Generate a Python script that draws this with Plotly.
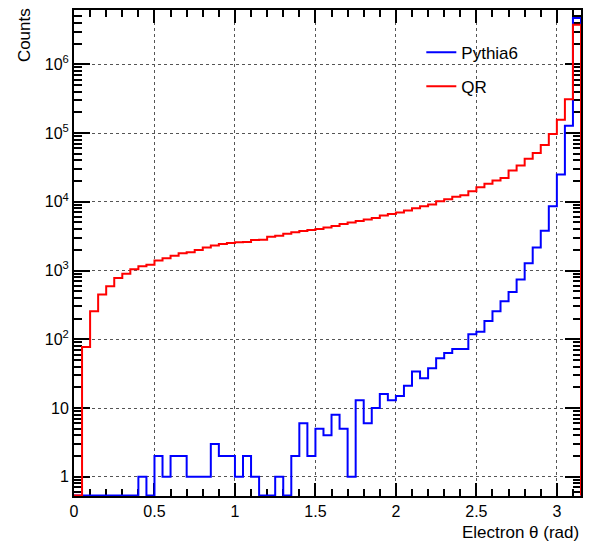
import numpy as np
import plotly.graph_objects as go

# Binning of the electron polar angle histogram (rad)
bin_width = 0.05
n_bins = 63
theta_edges = np.round(np.arange(n_bins + 1) * bin_width, 4)

# Counts per bin, bins from 0.00 to 3.15 rad
pythia6_counts = [
    0, 0, 0, 0, 0, 0, 0, 0, 1, 0,
    2, 1, 2, 2, 1, 1, 1, 3, 2, 2,
    1, 2, 1, 0, 0, 1, 0, 2, 6, 2,
    5, 4, 8, 5, 1, 13, 6, 10, 16, 13,
    15, 21, 34, 27, 38, 53, 63, 72, 72, 118,
    129, 184, 256, 357, 488, 743, 1280, 2157, 3800, 8640,
    25000, 128000, 4700000,
]
qr_counts = [
    0, 77, 256, 447, 589, 777, 898, 1047, 1158, 1213,
    1400, 1510, 1636, 1784, 1850, 1997, 2157, 2306, 2440, 2524,
    2576, 2600, 2786, 2800, 3111, 3214, 3436, 3590, 3758, 3900,
    4020, 4240, 4440, 4740, 5000, 5240, 5530, 5790, 6320, 6620,
    6980, 7460, 8080, 8640, 9120, 10200, 10900, 11800, 12500, 14200,
    16300, 18300, 20400, 22100, 28600, 33800, 42100, 51400, 67100, 96800,
    156000, 310000, 3760000,
]

series_names = ["Pythia6", "QR"]
series_colors = ["#0000ff", "#ff0000"]

x_tick_vals = [0, 0.5, 1, 1.5, 2, 2.5, 3]
x_tick_text = ["0", "0.5", "1", "1.5", "2", "2.5", "3"]
y_tick_vals = [1, 10, 1e2, 1e3, 1e4, 1e5, 1e6]
y_tick_text = ["1", "10", "10<sup>2</sup>", "10<sup>3</sup>",
               "10<sup>4</sup>", "10<sup>5</sup>", "10<sup>6</sup>"]

x_title = "Electron θ (rad)"
y_title = "Counts"

FONT = "Liberation Sans, Arial, Helvetica, sans-serif"
W, H = 591, 551
M = dict(l=74, r=9, t=8, b=55)
X_RANGE = [0, 3.15]
Y_LOG_RANGE = [-0.28, 6.79]
# empty bins are drawn on the bottom edge of the frame, as ROOT does on log scale
floor_val = 10 ** (Y_LOG_RANGE[0] + 0.006)


def step_xy(counts):
    vals = [c if c > 0 else floor_val for c in counts]
    xs = [theta_edges[0]] + list(theta_edges[:-1]) + [theta_edges[-1], theta_edges[-1]]
    ys = [floor_val] + vals + [vals[-1], floor_val]
    return xs, ys


fig = go.Figure()
for name, counts, color, leg in zip(series_names, [pythia6_counts, qr_counts],
                                     series_colors, ["legend", "legend2"]):
    xs, ys = step_xy(counts)
    fig.add_trace(go.Scatter(
        x=xs, y=ys, mode="lines", name=name,
        line=dict(color=color, width=2, shape="hv"),
        cliponaxis=False, legend=leg,
    ))

plot_w = W - M["l"] - M["r"]
plot_h = H - M["t"] - M["b"]


def px_to_paper_x(px):
    return (px - M["l"]) / plot_w


def px_to_paper_y(py):
    return (H - M["b"] - py) / plot_h


axis_common = dict(
    showline=True, linecolor="black", linewidth=2, mirror="ticks",
    ticks="inside", tickcolor="black", tickwidth=1.5,
    showgrid=True, gridcolor="#555555", gridwidth=1, griddash="dot",
    zeroline=False, layer="below traces",
    tickfont=dict(family=FONT, size=16, color="black"),
)

fig.update_xaxes(
    range=X_RANGE, tickmode="array", tickvals=x_tick_vals, ticktext=x_tick_text,
    ticklen=13,
    minor=dict(ticks="inside", ticklen=7, tickwidth=1.5, tickcolor="black",
               dtick=0.1, tick0=0, showgrid=False),
    **axis_common,
)
fig.update_yaxes(
    type="log", range=Y_LOG_RANGE, tickmode="array", tickvals=y_tick_vals,
    ticktext=y_tick_text, ticklen=16,
    minor=dict(ticks="inside", ticklen=8, tickwidth=1.5, tickcolor="black",
               dtick="D1", showgrid=False),
    **axis_common,
)

legend_common = dict(
    xanchor="left", yanchor="middle", bgcolor="rgba(0,0,0,0)", borderwidth=0,
    font=dict(family=FONT, size=17, color="black"), itemwidth=30,
)

fig.update_layout(
    width=W, height=H, margin=M,
    paper_bgcolor="white", plot_bgcolor="white",
    showlegend=True,
    legend=dict(x=px_to_paper_x(422), y=px_to_paper_y(51), **legend_common),
    legend2=dict(x=px_to_paper_x(422), y=px_to_paper_y(85), **legend_common),
    annotations=[
        dict(text=x_title, xref="paper", yref="paper",
             x=1.0, y=px_to_paper_y(533), xanchor="right", yanchor="middle",
             showarrow=False, font=dict(family=FONT, size=17, color="black")),
        dict(text=y_title, xref="paper", yref="paper", textangle=-90,
             x=px_to_paper_x(24), y=px_to_paper_y(4), xanchor="center", yanchor="top",
             showarrow=False, font=dict(family=FONT, size=17, color="black")),
    ],
)

fig.write_html("out.html")
